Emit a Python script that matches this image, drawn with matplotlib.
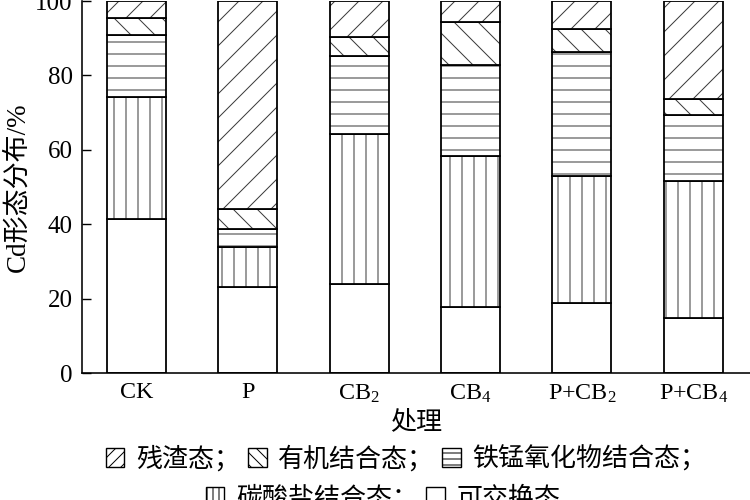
import numpy as np
import matplotlib.pyplot as plt
from matplotlib.patches import Patch

plt.rcParams['font.family'] = ['Liberation Serif', 'Noto Sans CJK SC']
plt.rcParams['mathtext.fontset'] = 'custom'
plt.rcParams['mathtext.rm'] = 'Liberation Serif'
plt.rcParams['mathtext.default'] = 'regular'
plt.rcParams['hatch.linewidth'] = 1.0

# Cd fraction distribution (%) per treatment
treatments = ['CK', 'P', 'CB$_2$', 'CB$_4$', 'P+CB$_2$', 'P+CB$_4$']
exchangeable = [41.5, 23.3, 24.0, 17.8, 19.0, 14.9]
carbonate = [32.6, 10.5, 40.4, 40.7, 34.0, 36.7]
fe_mn_oxide = [16.8, 4.9, 20.9, 24.3, 33.3, 17.7]
organic = [4.5, 5.4, 4.9, 11.6, 6.2, 4.5]
residual = [4.6, 55.9, 9.8, 5.6, 7.5, 26.2]

layers = [
    (exchangeable, '', '可交换态'),
    (carbonate, '|', '碳酸盐结合态；'),
    (fe_mn_oxide, '-', '铁锰氧化物结合态；'),
    (organic, '\\', '有机结合态；'),
    (residual, '/', '残渣态；'),
]

fig = plt.figure(figsize=(750 / 72, 500 / 72), dpi=72)
ax = fig.add_axes([0.109, 0.2533, 0.891, 0.7447])

x = np.arange(len(treatments))
bottom = np.zeros(len(x))
for vals, hatch, label in layers:
    # hatch in grey, outline in black on top
    ax.bar(x, vals, 0.53, bottom=bottom, color='white', edgecolor='#3a3a3a',
           hatch=hatch, linewidth=0)
    ax.bar(x, vals, 0.53, bottom=bottom, fill=False, edgecolor='black',
           linewidth=1.8)
    bottom += np.array(vals)

ax.set_xlim(-0.49, 5.51)
ax.set_ylim(0, 100)
ax.set_yticks(np.arange(0, 101, 20))
ax.set_xticks(x)
ax.set_xticklabels(treatments)
ax.tick_params(axis='y', direction='in', length=9, width=1.4, labelsize=25, pad=9)
ax.tick_params(axis='x', length=0, labelsize=24, pad=9)
for side in ['top', 'right']:
    ax.spines[side].set_visible(False)
for side in ['left', 'bottom']:
    ax.spines[side].set_linewidth(1.6)

ax.set_ylabel('Cd形态分布/%', fontsize=27)
ax.yaxis.set_label_coords(-0.077, 0.5)
ax.set_xlabel('处理', fontsize=26)
ax.xaxis.set_label_coords(0.5, -0.098)

# legend in two rows, like the original caption
handles = {label: Patch(facecolor='white', edgecolor='black', linewidth=1.4,
                        hatch=hatch * 2, label=label)
           for vals, hatch, label in layers}
row1 = ['残渣态；', '有机结合态；', '铁锰氧化物结合态；']
row2 = ['碳酸盐结合态；', '可交换态']
opts = dict(loc='center', frameon=False, fontsize=26, handlelength=0.72,
            handleheight=0.72, handletextpad=0.45, columnspacing=0.3,
            borderpad=0, borderaxespad=0)
fig.legend(handles=[handles[k] for k in row1], ncol=3,
           bbox_to_anchor=(406 / 750, 1 - 458 / 500), **opts)
fig.legend(handles=[handles[k] for k in row2], ncol=2,
           bbox_to_anchor=(383 / 750, 1 - 497 / 500), **opts)

fig.savefig('out.png', dpi=72)
